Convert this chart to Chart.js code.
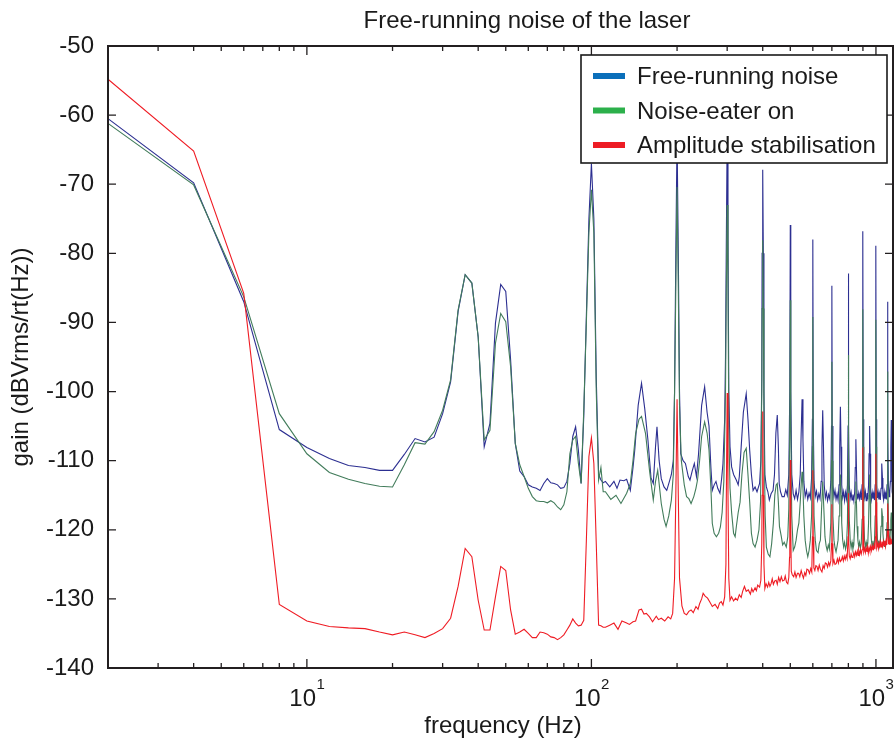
<!DOCTYPE html>
<html><head><meta charset="utf-8">
<script src="https://cdn.jsdelivr.net/npm/chart.js@4.4.1/dist/chart.umd.min.js"></script>
<style>html,body{margin:0;padding:0;background:#fff;}#wrap{width:894px;height:743px;position:relative;}</style>
</head><body><div id="wrap"><canvas id="c" width="894" height="743"></canvas></div>
<script>
const FONT = '"Liberation Sans", Arial, Helvetica, sans-serif';
const chartTitle = 'Free-running noise of the laser';
const xTitle = 'frequency (Hz)';
const yTitle = 'gain (dBVrms/rt(Hz))';
const seriesNames = ['Free-running noise', 'Noise-eater on', 'Amplitude stabilisation'];
const xMajorTicks = [10, 100, 1000];
const xTickExponents = ['1', '2', '3'];
const yTicks = [-140, -130, -120, -110, -100, -90, -80, -70, -60, -50];

const freqLow = [2,4,6,8,10,12,14,16,18,20,22,24,26,28,30,32,34,36,38,40,42,44,46,48,50,52,54,56,58,60,62,64,66,68,70,72,74,76,78,80,82,84,86,88,90,92,94,96,98,100,102,104,106,108,110];

const blueLow = [-60.5,-69.8,-87.0,-105.5,-108.1,-109.7,-110.7,-111.0,-111.4,-111.4,
 -109.1,-106.8,-107.3,-106.6,-103.2,-98.6,-88.4,-83.1,-84.3,-92.1,
 -108.0,-104.6,-90.1,-84.5,-85.5,-95.4,-107.5,-111.5,-112.3,-113.5,
 -113.8,-114.0,-114.3,-113.3,-112.6,-113.2,-113.3,-113.5,-114.0,-113.9,
 -113.0,-110.4,-106.5,-105.1,-108.5,-113.3,-103.6,-89.0,-75.0,-67.0,
 -75.0,-98.0,-112.0,-112.8,-113.2];
const greenLow = [-61.2,-70.1,-86.3,-103.2,-109.0,-111.7,-112.7,-113.3,-113.7,-113.8,
 -110.6,-107.4,-107.6,-105.8,-102.7,-98.3,-88.2,-83.1,-84.3,-92.1,
 -107.0,-105.6,-93.0,-88.7,-89.9,-96.4,-107.5,-110.6,-112.3,-114.0,
 -115.2,-115.8,-115.9,-115.9,-116.1,-115.8,-116.1,-116.7,-117.1,-116.4,
 -114.5,-109.0,-107.0,-106.5,-110.4,-113.3,-102.7,-90.0,-77.0,-70.8,
 -77.0,-100.0,-112.8,-111.0,-114.5];
const redLow = [-54.8,-65.2,-85.8,-130.8,-133.2,-134.0,-134.2,-134.3,-134.8,-135.2,
 -134.8,-135.2,-135.6,-135.0,-134.3,-132.8,-128.2,-122.7,-123.9,-130.2,
 -134.5,-134.5,-129.7,-125.3,-125.9,-131.6,-135.1,-134.8,-134.4,-135.0,
 -135.6,-135.6,-134.8,-134.9,-135.1,-135.5,-135.6,-135.9,-135.6,-135.2,
 -134.5,-133.8,-132.9,-133.5,-133.9,-133.8,-133.1,-121.5,-109.4,-106.7,
 -110.4,-122.0,-133.8,-133.9,-134.1];

const freqBlueHi = [112,116,120,123,126,130,133,137,140,142,146,150,154,158,162,165,168,170,173,176,180,184,188,191,194,196,198,200,202,204,206,210,214,219,222,226,230,234,238,244,250,255,259,263,266,270,274,278,283,287,290,294,296,298,300,302,304,307,311,316,323,328,331,336,342,350,355,360,365,370,376,382,390,394,397,398,400,402,404,407,412,417,422,428,435,440,445,450,454,457,462,468,476,482,488,494,498,500,502,506,512,518,524,530,536,542,546,550,554,558,564,570,576,582,588,594,598,600,602,606,612,618,624,630,636,642,646,650,654,658,664,670,676,682,688,694,698,700,702,706,712,718,724,730,736,742,746,750,754,758,764,770,776,782,788,794,798,800,802,806,812,818,824,830,836,842,846,850,854,858,864,870,876,882,888,894,898,900,902,906,912,918,924,930,936,942,946,950,954,958,964,970,976,982,988,994,998,1000,1002,1006,1012,1018,1024,1030,1036,1042,1046,1050,1054,1058,1064,1070,1076,1082,1088,1094,1098,1100,1102,1106,1112,1118,1124,1128,1132,1136,1140,1148];
const gainBlueHi = [-113.0,-113.8,-113.0,-114.0,-112.8,-112.9,-112.7,-114.3,-111,-108.5,-102,-98.8,-102.5,-107,-112.5,-113.3,-108,-105.1,-110,-112.6,-113.8,-114.3,-113,-112,-110,-100,-80,-63,-80,-100,-109,-110,-110.4,-112.3,-112.8,-111.5,-110.4,-112.3,-109,-102,-99.3,-103,-105,-111,-114.3,-113.5,-113,-114,-114.7,-112.5,-110.4,-104,-95,-78,-63,-78,-100,-108,-110.9,-112,-112.8,-113.5,-112.3,-108,-103,-100.3,-104,-108.5,-112,-114.3,-113.8,-114.5,-113.3,-110,-98,-80,-67.9,-80,-100,-112,-113.8,-114.5,-115.7,-114.8,-114.3,-112,-106,-103.4,-108,-113.3,-114.5,-115.2,-115.2,-114.2,-115,-112,-100,-75.9,-100,-112,-114.8,-115.5,-114.3,-115.6,-114.5,-112,-106,-101.1,-107,-113,-115.2,-114.3,-115.6,-114.7,-115.4,-112.5,-104,-78,-104,-113,-115.2,-114.4,-115.7,-114.8,-115.5,-113,-108,-102.7,-108,-113.5,-115.4,-114.6,-115.8,-114.9,-115.5,-113,-105,-84.7,-105,-113.5,-115.2,-114.3,-115.6,-114.8,-115.7,-113.5,-108,-102.2,-108,-113.5,-115.3,-114.5,-115.8,-114.6,-115.5,-113.5,-105,-82.9,-105,-113.5,-115.4,-114.6,-115.7,-114.9,-115.8,-114.5,-111,-106.9,-111,-114.8,-115.6,-114.7,-115.5,-114.6,-115.7,-113.5,-104,-76.8,-104,-113.5,-115.3,-114.5,-115.8,-114.7,-115.6,-113.5,-109,-105,-109,-114.5,-115.6,-114.6,-115.5,-114.8,-115.7,-113.5,-104,-78.9,-104,-113.5,-115.4,-114.6,-115.6,-114.8,-115.7,-114,-112.5,-110.4,-112.5,-115,-115.7,-114.6,-115.5,-114.8,-115.6,-113.5,-106,-87,-106,-113.5,-115.2,-114.5,-113,-108,-104.1,-108,-114.5,-115.2];

const freqGreenHi = [112,117,122,127,133,137,140,143,147,150,155,160,165,168,171,176,180,183,187,191,194,196,198,200,202,204,207,212,216,220,224,229,233,236,240,244,250,255,259,263,266,270,275,280,284,288,292,296,298,300,302,304,307,311,316,320,323,328,333,338,344,350,355,360,365,370,376,382,388,393,397,398,400,402,404,408,412,418,424,430,436,441,446,450,454,458,465,470,476,484,490,494,498,500,502,506,512,518,524,530,536,542,546,550,554,558,564,570,576,582,588,594,598,600,602,606,612,618,626,632,638,644,650,656,662,668,674,680,686,694,698,700,702,706,712,718,724,730,736,742,746,750,754,758,764,770,776,782,788,794,798,800,802,806,812,818,824,830,836,842,846,850,854,858,864,870,876,882,888,894,898,900,902,906,912,918,924,930,936,942,946,950,954,958,964,970,976,982,988,994,998,1000,1002,1006,1012,1018,1024,1030,1036,1042,1046,1050,1054,1058,1064,1070,1076,1082,1088,1094,1098,1100,1102,1106,1112,1118,1124,1128,1132,1136,1140,1148];
const gainGreenHi = [-114.5,-115.6,-115,-116.2,-114.7,-113.3,-110,-106.1,-104,-103.6,-106.1,-111.4,-115.7,-113,-111.4,-116.2,-118.5,-119.5,-118,-115.7,-112,-100,-85,-70.4,-85,-102,-110,-113.5,-115.2,-115.5,-116.2,-115.2,-114,-112.8,-110,-106.5,-104.4,-106,-108.5,-114,-119.1,-120.5,-121,-120.5,-119.6,-117.5,-113,-100,-85,-73,-85,-105,-114,-117.5,-120.5,-121,-119.6,-117.5,-116,-112,-108.8,-108.2,-112,-116,-120.5,-122,-122.5,-121.5,-120,-116,-100,-88,-78.1,-88,-105,-118,-122.5,-123.5,-123.9,-122,-119,-115,-113.5,-113.3,-116,-119.5,-121,-122.2,-121.8,-122.5,-121,-117,-105,-86.8,-105,-118,-123,-122.5,-121.5,-120,-119,-116,-113.5,-111.6,-114,-118,-121.5,-123,-123.9,-123,-121.5,-118,-108,-89.2,-108,-118,-121.5,-123,-123.3,-122,-121.5,-117,-113,-117,-121,-122.3,-123,-122.2,-122.8,-119,-110,-95.7,-110,-118,-121.5,-122.6,-123.2,-122.4,-121.5,-118,-115,-112,-115,-119,-121.5,-122.5,-121.8,-122.8,-122.2,-119,-110,-94.7,-110,-118.5,-121.5,-122.6,-121.8,-122.8,-122.2,-119,-116,-113,-116,-119.5,-121.5,-122.5,-121.8,-122.6,-122,-118.5,-108,-88.1,-108,-118.5,-121.5,-122.5,-121.8,-122.6,-122,-119,-115,-112,-115,-119.5,-121.5,-122.5,-121.6,-122.5,-121.8,-118,-108,-89.6,-108,-118,-121.3,-122.3,-121.6,-122.4,-121.8,-119.5,-117.5,-116.9,-118,-120.5,-121.8,-122.4,-121.6,-122.3,-121.7,-119,-110,-97.1,-110,-118.5,-121.5,-122,-120,-118.5,-117.5,-119,-121.5,-122];

const freqRedHi = [112,116,120,124,128,133,136,140,143,147,150,153,156,160,164,169,172,176,181,186,190,193,196,198,200,202,204,208,212,216,220,224,228,233,237,240,244,247,251,256,261,266,272,278,282,286,290,294,297,298,300,302,304,307,311,316,321,326,331,336,340,345,350,356,362,366,370,376,380,384,390,394,397,398,400,402,404,407,411,416,420,424,428,432,436,441,446,450,455,460,465,470,476,480,485,490,494,497,498,500,502,504,508,514,519,524,530,535,540,546,551,556,562,567,572,578,584,590,595,598,600,602,605,610,615,620,626,632,638,646,652,658,664,670,676,682,688,694,698,700,702,706,712,718,725,732,738,744,750,756,762,768,774,780,786,792,798,800,802,806,812,818,824,830,836,842,848,854,860,865,870,876,882,888,894,898,900,902,906,912,918,924,930,935,940,946,952,958,964,970,976,980,986,992,996,998,1000,1002,1004,1008,1014,1020,1026,1032,1038,1044,1050,1056,1062,1068,1074,1080,1086,1092,1097,1100,1103,1108,1114,1120,1126,1132,1138,1144,1148];
const gainRedHi = [-134.1,-133.8,-133.5,-134.4,-133.2,-133.5,-133.7,-133.3,-133.2,-131.6,-131.5,-132.2,-132.1,-132.6,-133.3,-132.5,-133,-132.8,-133.2,-132.6,-132.9,-132.1,-127,-115,-101.1,-115,-127,-131,-132.1,-132.3,-131.8,-131.6,-132,-131.1,-131.5,-130.7,-130,-129.2,-129.6,-129.9,-130.5,-131.1,-130.8,-131.4,-130.6,-130.4,-130.9,-129.7,-125,-115,-100.2,-115,-127,-130.2,-129.7,-130.3,-129.9,-130.2,-129.4,-129.8,-128.9,-128.2,-128.9,-128.7,-129.3,-128.5,-129.0,-128.4,-128.8,-128.0,-128.3,-127.3,-122,-115,-102.9,-115,-125,-128.5,-127.8,-128.3,-127.6,-128.2,-127.8,-127.1,-127.9,-127.4,-127.3,-127.9,-126.9,-127.5,-126.8,-127.4,-127.3,-126.7,-127.6,-127.8,-126.9,-124,-120,-109.9,-120,-126,-126.5,-126.8,-126.1,-126.9,-126.3,-126.3,-126.8,-125.9,-126.5,-127.0,-126.2,-126.6,-125.7,-125.8,-126.3,-125.6,-126.1,-121,-111.4,-121,-125.5,-125.9,-125.2,-125.3,-125.9,-125.1,-125.7,-126.1,-125.2,-125.6,-124.8,-124.9,-125.4,-124.7,-125.2,-124.5,-122,-116.3,-122,-124.9,-124.4,-125,-124.9,-124.2,-124.8,-124.1,-124.6,-124.4,-123.9,-124.5,-123.8,-124.3,-123.7,-124.2,-121,-114.7,-121,-123.8,-124.2,-123.5,-124,-123.9,-123.3,-123.9,-123.2,-123.7,-123.1,-123.7,-123.0,-123.6,-122.9,-123.5,-122.9,-118,-108.1,-118,-123.2,-122.7,-123.3,-122.6,-123.2,-122.5,-123.4,-122.6,-123.1,-122.4,-123.0,-122.3,-122.9,-122.9,-122.2,-122.8,-121,-116,-109.0,-116,-121,-122.6,-122.0,-122.7,-121.9,-122.6,-121.8,-122.5,-121.7,-122.4,-121.7,-122.3,-121.6,-122.4,-121.6,-122.2,-120,-116.2,-120,-122.1,-121.5,-122.2,-121.4,-122.0,-121.3,-122.0,-121.6];

function pairs(fs, gs) { return fs.map((f, i) => ({ x: f, y: gs[i] })); }

const lineColors = ['#2c2f91', '#427c5b', '#ef1c24'];
const swatchColors = ['#0b6fba', '#2cb04b', '#ed1c24'];

const decor = {
  id: 'decor',
  afterDatasetsDraw(chart) {
    const { ctx, chartArea: a, scales: { x, y } } = chart;
    ctx.save();
    ctx.strokeStyle = '#231f20';
    ctx.lineWidth = 1.3;
    ctx.beginPath();
    for (let dec = 1; dec <= 1000; dec *= 10) {
      for (let m = 1; m <= 9; m++) {
        const f = dec * m;
        if (f < x.min || f > x.max) continue;
        const px = x.getPixelForValue(f);
        const len = m === 1 ? 9 : 5;
        ctx.moveTo(px, a.bottom); ctx.lineTo(px, a.bottom - len);
        ctx.moveTo(px, a.top); ctx.lineTo(px, a.top + len);
      }
    }
    for (const v of yTicks) {
      const py = y.getPixelForValue(v);
      ctx.moveTo(a.left, py); ctx.lineTo(a.left + 8, py);
      ctx.moveTo(a.right, py); ctx.lineTo(a.right - 8, py);
    }
    ctx.stroke();
    ctx.lineWidth = 2;
    ctx.strokeRect(a.left, a.top, a.right - a.left, a.bottom - a.top);

    ctx.fillStyle = '#1a1a1a';
    // x tick labels 10^n
    xMajorTicks.forEach((f, i) => {
      const px = x.getPixelForValue(f);
      ctx.font = '24px ' + FONT;
      const w1 = ctx.measureText('10').width;
      ctx.font = '15px ' + FONT;
      const w2 = ctx.measureText(xTickExponents[i]).width;
      const start = px - (w1 + w2) / 2;
      ctx.textAlign = 'left'; ctx.textBaseline = 'alphabetic';
      ctx.font = '24px ' + FONT;
      ctx.fillText('10', start, 706);
      ctx.font = '15px ' + FONT;
      ctx.fillText(xTickExponents[i], start + w1 + 0.5, 689);
    });
    // titles
    ctx.font = '24px ' + FONT;
    ctx.textAlign = 'center';
    ctx.fillText(chartTitle, 527, 28);
    ctx.fillText(xTitle, 503, 733);
    ctx.save();
    ctx.translate(28, (a.top + a.bottom) / 2);
    ctx.rotate(-Math.PI / 2);
    ctx.textBaseline = 'alphabetic';
    ctx.fillText(yTitle, 0, 0);
    ctx.restore();

    // legend
    const L = 581, T = 55, R = 887, B = 163;
    ctx.fillStyle = '#fff';
    ctx.fillRect(L, T, R - L, B - T);
    ctx.lineWidth = 1.6;
    ctx.strokeStyle = '#1a1a1a';
    ctx.strokeRect(L, T, R - L, B - T);
    const rows = [76, 110.5, 145];
    seriesNames.forEach((name, i) => {
      ctx.strokeStyle = swatchColors[i];
      ctx.lineWidth = 6;
      ctx.beginPath();
      ctx.moveTo(593, rows[i]); ctx.lineTo(625, rows[i]);
      ctx.stroke();
      ctx.fillStyle = '#1a1a1a';
      ctx.textAlign = 'left';
      ctx.textBaseline = 'alphabetic';
      ctx.font = '24px ' + FONT;
      ctx.fillText(name, 637, rows[i] + 8);
    });
    ctx.restore();
  }
};

new Chart(document.getElementById('c'), {
  type: 'line',
  data: {
    datasets: [
      { label: seriesNames[0], data: pairs(freqLow.concat(freqBlueHi), blueLow.concat(gainBlueHi)), borderColor: lineColors[0], order: 3 },
      { label: seriesNames[1], data: pairs(freqLow.concat(freqGreenHi), greenLow.concat(gainGreenHi)), borderColor: lineColors[1], order: 2 },
      { label: seriesNames[2], data: pairs(freqLow.concat(freqRedHi), redLow.concat(gainRedHi)), borderColor: lineColors[2], order: 1 }
    ]
  },
  options: {
    responsive: false,
    animation: false,
    events: [],
    layout: { padding: { top: 46, right: 1, left: 0, bottom: 0 } },
    elements: { point: { radius: 0 }, line: { borderWidth: 1.1, tension: 0 } },
    plugins: { legend: { display: false }, title: { display: false }, tooltip: { enabled: false } },
    scales: {
      x: {
        type: 'logarithmic', min: 2, max: 1148,
        grid: { display: false, drawTicks: false }, border: { display: false },
        ticks: { display: false },
        afterFit: (s) => { s.height = 75; }
      },
      y: {
        type: 'linear', min: -140, max: -50,
        grid: { display: false, drawTicks: false }, border: { display: false },
        ticks: { stepSize: 10, padding: 14, color: '#1a1a1a', font: { size: 24, family: FONT } },
        afterFit: (s) => { s.width = 108; }
      }
    }
  },
  plugins: [decor]
});
</script>
</body></html>
